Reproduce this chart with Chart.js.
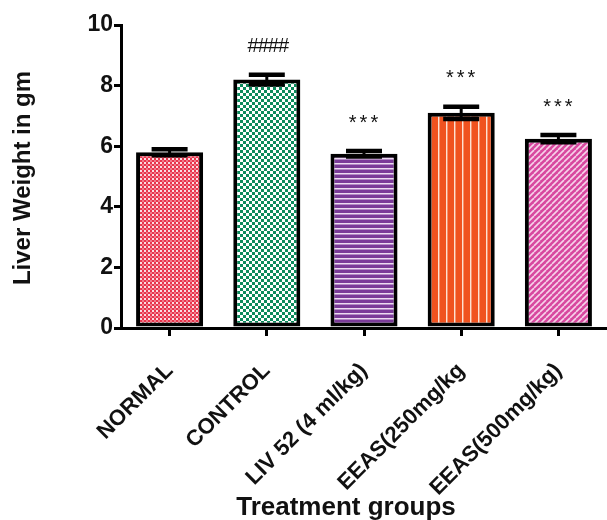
<!DOCTYPE html>
<html>
<head>
<meta charset="utf-8">
<script src="https://cdn.jsdelivr.net/npm/chart.js@4.4.1/dist/chart.umd.min.js"></script>
<style>
  html, body { margin: 0; padding: 0; background: #fff; }
  #wrap { width: 607px; height: 520px; position: relative; }
</style>
</head>
<body>
<div id="wrap"><canvas id="c" width="607" height="520"></canvas></div>
<script>
// Liver weight (g) per treatment group, mean ± SEM
const groups = ['NORMAL', 'CONTROL', 'LIV 52 (4 ml/kg)', 'EEAS(250mg/kg', 'EEAS(500mg/kg)'];
const liverWeight = [5.8, 8.2, 5.75, 7.1, 6.25];
const sem = [0.1, 0.16, 0.09, 0.2, 0.12];
const significance = ['', '####', '***', '***', '***'];
const yTicks = [0, 2, 4, 6, 8, 10];

const FONT = '"Liberation Sans", Arial, sans-serif';

// Fill patterns for each bar
function makePattern(kind) {
  const c = document.createElement('canvas');
  const g = c.getContext('2d');
  if (kind === 'fineCheck') {
    c.width = 4; c.height = 4;
    g.fillStyle = '#fbdde2'; g.fillRect(0, 0, 4, 4);
    g.fillStyle = '#e8344c';
    g.fillRect(0, 0, 2, 2); g.fillRect(2, 2, 2, 2);
    g.fillStyle = '#f07a8a';
    g.fillRect(2, 0, 2, 2);
  } else if (kind === 'check') {
    c.width = 6; c.height = 6;
    g.fillStyle = '#ffffff'; g.fillRect(0, 0, 6, 6);
    g.fillStyle = '#0b8a5c';
    g.fillRect(0, 0, 3, 3); g.fillRect(3, 3, 3, 3);
  } else if (kind === 'hlines') {
    c.width = 5; c.height = 5;
    g.fillStyle = '#7b3b99'; g.fillRect(0, 0, 5, 5);
    g.fillStyle = '#ecdcf2'; g.fillRect(0, 3, 5, 1);
    g.fillStyle = '#b48ac6'; g.fillRect(0, 4, 5, 1);
  } else if (kind === 'vlines') {
    c.width = 8; c.height = 8;
    g.fillStyle = '#f0521f'; g.fillRect(0, 0, 8, 8);
    g.fillStyle = '#fde0d2'; g.fillRect(6, 0, 1, 8);
    g.fillStyle = '#f6906a'; g.fillRect(7, 0, 1, 8);
  } else if (kind === 'diag') {
    c.width = 6; c.height = 6;
    g.fillStyle = '#d8489f'; g.fillRect(0, 0, 6, 6);
    g.strokeStyle = '#f6d3ea'; g.lineWidth = 1.6;
    for (let k = -6; k <= 12; k += 6) {
      g.beginPath(); g.moveTo(k, 6); g.lineTo(k + 6, 0); g.stroke();
    }
  }
  return g.createPattern(c, 'repeat');
}
const fills = ['fineCheck', 'check', 'hlines', 'vlines', 'diag'].map(makePattern);

// Error bars, significance marks and axis titles
const overlay = {
  id: 'overlay',
  afterDatasetsDraw(chart) {
    const ctx = chart.ctx;
    const y = chart.scales.y;
    const meta = chart.getDatasetMeta(0);
    ctx.save();
    ctx.strokeStyle = '#000';
    meta.data.forEach((bar, i) => {
      const x = bar.x;
      const top = y.getPixelForValue(liverWeight[i] + sem[i]);
      const bot = y.getPixelForValue(liverWeight[i] - sem[i]);
      ctx.lineWidth = 3;
      ctx.beginPath(); ctx.moveTo(x, top); ctx.lineTo(x, bot); ctx.stroke();
      ctx.lineWidth = 4.5;
      ctx.beginPath();
      ctx.moveTo(x - 18, top); ctx.lineTo(x + 18, top);
      ctx.moveTo(x - 18, bot); ctx.lineTo(x + 18, bot);
      ctx.stroke();
      if (significance[i]) {
        ctx.fillStyle = '#111';
        ctx.textAlign = 'center';
        ctx.textBaseline = 'middle';
        ctx.font = '20px ' + FONT;
        ctx.letterSpacing = significance[i][0] === '#' ? '-1px' : '3px';
        ctx.fillText(significance[i], x + 1, top - 28);
        ctx.letterSpacing = '0px';
      }
    });
    ctx.fillStyle = '#111';
    ctx.textAlign = 'center';
    ctx.textBaseline = 'middle';
    ctx.font = 'bold 26px ' + FONT;
    ctx.fillText('Treatment groups', 346, 508);
    ctx.translate(23, 178);
    ctx.rotate(-Math.PI / 2);
    ctx.font = 'bold 24px ' + FONT;
    ctx.fillText('Liver Weight in gm', 0, 0);
    ctx.restore();
  }
};

new Chart(document.getElementById('c'), {
  type: 'bar',
  data: {
    labels: groups,
    datasets: [{
      data: liverWeight,
      backgroundColor: fills,
      borderColor: '#000',
      borderWidth: 4,
      borderSkipped: false,
      barPercentage: 0.69,
      categoryPercentage: 1.0
    }]
  },
  options: {
    responsive: false,
    animation: false,
    devicePixelRatio: 1,
    layout: { padding: { top: 25, right: 0, left: 0, bottom: 0 } },
    plugins: { legend: { display: false }, tooltip: { enabled: false } },
    scales: {
      x: {
        afterFit(s) { s.height = 192; },
        grid: {
          drawOnChartArea: false, drawTicks: true, tickLength: 8,
          color: '#000', lineWidth: 3, offset: false
        },
        border: { display: true, color: '#000', width: 3 },
        ticks: {
          color: '#111', minRotation: 45, maxRotation: 45, padding: 22,
          autoSkip: false,
          font: { family: FONT, size: 22, weight: 'bold' }
        }
      },
      y: {
        min: 0, max: 10,
        afterFit(s) { s.width = 121; },
        afterBuildTicks(s) { s.ticks = yTicks.map(v => ({ value: v })); },
        grid: {
          drawOnChartArea: false, drawTicks: true, tickLength: 7,
          color: '#000', lineWidth: 3
        },
        border: { display: true, color: '#000', width: 3 },
        ticks: {
          color: '#111', padding: 1,
          font: { family: FONT, size: 23, weight: 'bold' }
        }
      }
    }
  },
  plugins: [overlay]
});
</script>
</body>
</html>
